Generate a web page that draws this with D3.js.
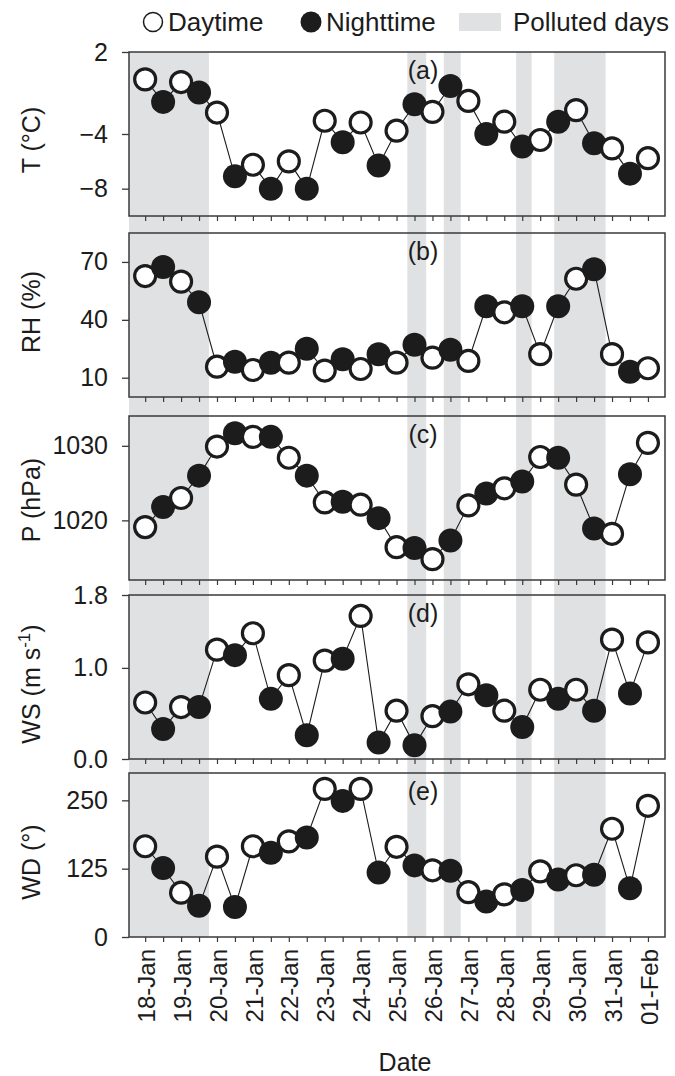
<!DOCTYPE html>
<html>
<head>
<meta charset="utf-8">
<script src="https://cdn.jsdelivr.net/npm/d3@7/dist/d3.min.js"></script>
<style>
  html, body { margin: 0; padding: 0; background: #fff; }
  svg { display: block; font-family: "Liberation Sans", Arial, Helvetica, sans-serif; }
</style>
</head>
<body>
<svg id="chart" width="675" height="1076"></svg>
<script>
// ---------------- Data ----------------
const dateLabels = ["18-Jan","19-Jan","20-Jan","21-Jan","22-Jan","23-Jan","24-Jan","25-Jan","26-Jan","27-Jan","28-Jan","29-Jan","30-Jan","31-Jan","01-Feb"];
// Each observation: D = daytime, N = nighttime (18-Jan day ... 01-Feb day)
const period = ["D","N","D","N","D","N","D","N","D","N","D","N","D","N","D","N","D","N","D","N","D","N","D","N","D","N","D","N","D"];

const T  = [0.0, -1.65, -0.2, -0.97, -2.43, -7.1, -6.25, -8.0, -6.0, -8.0, -3.03, -4.6, -3.16, -6.3, -3.76, -1.82, -2.38, -0.49, -1.58, -4.0, -3.1, -4.92, -4.44, -3.1, -2.25, -4.68, -5.05, -6.9, -5.77];
const RH = [62.7, 67.4, 59.8, 49.1, 15.7, 18.3, 14.0, 17.8, 17.8, 25.0, 13.7, 19.6, 14.5, 22.2, 17.8, 27.1, 20.4, 24.5, 18.7, 47.0, 43.9, 47.0, 22.2, 47.0, 61.3, 66.2, 22.2, 13.1, 14.9];
const P  = [1019.1, 1021.8, 1023.0, 1026.0, 1029.9, 1031.7, 1031.2, 1031.2, 1028.4, 1026.0, 1022.4, 1022.5, 1022.1, 1020.3, 1016.4, 1016.3, 1014.8, 1017.3, 1022.0, 1023.6, 1024.3, 1025.2, 1028.5, 1028.4, 1024.8, 1018.9, 1018.2, 1026.2, 1030.4];
const WS = [0.62, 0.33, 0.57, 0.57, 1.20, 1.14, 1.38, 0.66, 0.92, 0.26, 1.08, 1.10, 1.57, 0.18, 0.53, 0.15, 0.47, 0.52, 0.82, 0.70, 0.53, 0.35, 0.76, 0.66, 0.76, 0.53, 1.31, 0.72, 1.28];
const WD = [166, 126, 81, 57, 147, 55, 166, 154, 175, 182, 271, 249, 271, 118, 165, 131, 122, 121, 82, 65, 78, 86, 120, 105, 113, 114, 198, 89, 240];

// Polluted-day periods, in observation-index units
const pollutedStart = [-0.9, 14.6, 16.63, 20.66, 22.78];
const pollutedEnd   = [3.55, 15.65, 17.57, 21.52, 25.64];

const tickT  = [2, -4, -8];
const tickRH = [70, 40, 10];
const tickP  = [1030, 1020];
const tickWS = [1.8, 1.0, 0.0];
const tickWD = [250, 125, 0];

// ---------------- Layout ----------------
const svg = d3.select("#chart");
const left = 129, right = 665;
const panelH = 164;
const tops = [52, 233, 416, 595, 773];
const obsIdx = d3.range(period.length);
const x = d3.scaleLinear().domain([-0.9, 28.95]).range([left, right]);

const panels = [
  { values: T,  domain: [-10, 2],     ticks: tickT,  fmt: d3.format("d"),   letter: "(a)", title: "T (°C)", tcy: 140 },
  { values: RH, domain: [0, 85],      ticks: tickRH, fmt: d3.format("d"),   letter: "(b)", title: "RH (%)", tcy: 312 },
  { values: P,  domain: [1012, 1034], ticks: tickP,  fmt: d3.format("d"),   letter: "(c)", title: "P (hPa)", tcy: 500 },
  { values: WS, domain: [0, 1.8],     ticks: tickWS, fmt: d3.format(".1f"), letter: "(d)", title: "WS", tcy: 684 },
  { values: WD, domain: [0, 300],     ticks: tickWD, fmt: d3.format("d"),   letter: "(e)", title: "WD (°)", tcy: 862 }
];

const ink = "#1c1c1c";
const frame = "#3a3a3a";

// Polluted bands spanning all panels
const bandTop = tops[0], bandBot = tops[4] + panelH;
svg.append("g").selectAll("rect")
  .data(pollutedStart.map((s, i) => [s, pollutedEnd[i]]))
  .join("rect")
  .attr("x", d => x(d[0]))
  .attr("width", d => x(d[1]) - x(d[0]))
  .attr("y", bandTop)
  .attr("height", bandBot - bandTop)
  .attr("fill", "#e0e1e3");

panels.forEach((p, k) => {
  const top = tops[k];
  const y = d3.scaleLinear().domain(p.domain).range([top + panelH, top]);
  const g = svg.append("g");

  // frame
  g.append("rect")
    .attr("x", left).attr("y", top)
    .attr("width", right - left).attr("height", panelH)
    .attr("fill", "none").attr("stroke", frame).attr("stroke-width", 1.5);

  // y axis
  const ya = g.append("g").attr("transform", `translate(${left},0)`)
    .call(d3.axisLeft(y).tickValues(p.ticks).tickFormat(p.fmt).tickSize(7).tickPadding(14));
  ya.select(".domain").remove();
  ya.selectAll(".tick line").attr("stroke", frame).attr("stroke-width", 1.3);
  ya.selectAll(".tick text").attr("font-size", 25).attr("fill", ink)
    .attr("font-family", "'Liberation Sans', Arial, sans-serif");

  // x axis ticks
  const xa = g.append("g").attr("transform", `translate(0,${top + panelH})`)
    .call(d3.axisBottom(x).tickValues(obsIdx).tickFormat("").tickSize(5));
  xa.select(".domain").remove();
  xa.selectAll(".tick line").attr("stroke", frame).attr("stroke-width", 1.2);

  // connecting line
  g.append("path")
    .datum(p.values)
    .attr("fill", "none").attr("stroke", ink).attr("stroke-width", 1.1)
    .attr("d", d3.line().x((d, i) => x(i)).y(d => y(d)));

  // markers in observation order
  g.append("g").selectAll("circle")
    .data(p.values)
    .join("circle")
    .attr("cx", (d, i) => x(i))
    .attr("cy", d => y(d))
    .attr("r", (d, i) => period[i] === "D" ? 10.5 : 12)
    .attr("fill", (d, i) => period[i] === "D" ? "#fff" : ink)
    .attr("stroke", (d, i) => period[i] === "D" ? ink : "none")
    .attr("stroke-width", 3.2);

  // panel letter
  g.append("text")
    .attr("x", 423).attr("y", top + 27)
    .attr("text-anchor", "middle").attr("font-size", 25).attr("fill", ink)
    .text(p.letter);

  // y title
  const tt = g.append("text")
    .attr("transform", `translate(40,${p.tcy}) rotate(-90)`)
    .attr("text-anchor", "middle").attr("font-size", 25).attr("fill", ink);
  if (p.title === "WS") {
    tt.append("tspan").text("WS (m s");
    tt.append("tspan").attr("font-size", 17).attr("dy", -10).text("-1");
    tt.append("tspan").attr("dy", 10).text(")");
  } else {
    tt.text(p.title);
  }
});

// date labels (one per day, at the daytime observation)
const lastBottom = tops[4] + panelH;
svg.append("g").selectAll("text")
  .data(dateLabels)
  .join("text")
  .attr("transform", (d, i) => `translate(${x(i * 2) + 1},${lastBottom + 12}) rotate(-90)`)
  .attr("text-anchor", "end")
  .attr("dy", "0.36em")
  .attr("font-size", 24)
  .attr("fill", ink)
  .text(d => d);

svg.append("text")
  .attr("x", 405).attr("y", 1071)
  .attr("text-anchor", "middle").attr("font-size", 25).attr("fill", ink)
  .text("Date");

// legend
const lg = svg.append("g");
lg.append("circle").attr("cx", 153).attr("cy", 22).attr("r", 9.5)
  .attr("fill", "#fff").attr("stroke", ink).attr("stroke-width", 1.5);
lg.append("text").attr("x", 168).attr("y", 31).attr("font-size", 26).attr("fill", ink).text("Daytime");
lg.append("circle").attr("cx", 311).attr("cy", 22).attr("r", 10.5).attr("fill", ink);
lg.append("text").attr("x", 326).attr("y", 31).attr("font-size", 26).attr("fill", ink).text("Nighttime");
lg.append("rect").attr("x", 459).attr("y", 13).attr("width", 42).attr("height", 18).attr("fill", "#e0e1e3");
lg.append("text").attr("x", 513).attr("y", 31).attr("font-size", 26).attr("fill", ink).text("Polluted days");
</script>
</body>
</html>
